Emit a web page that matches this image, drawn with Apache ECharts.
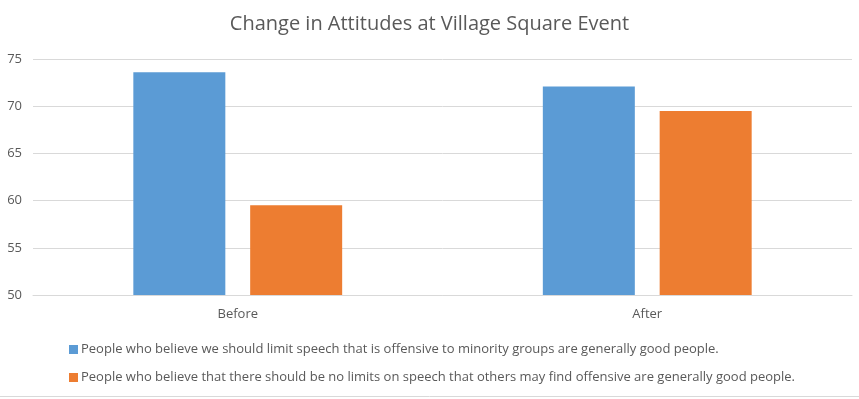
<!DOCTYPE html>
<html><head><meta charset="utf-8">
<script src="https://cdn.jsdelivr.net/npm/echarts@6/dist/echarts.min.js"></script>
<style>html,body{margin:0;padding:0;background:#fff}#c{width:859px;height:399px}</style>
</head><body><div id="c"></div>
<script>
const categories = ['Before', 'After'];
const seriesNames = [
  'People who believe we should limit speech that is offensive to minority groups are generally good people.',
  'People who believe that there should be no limits on speech that others may find offensive are generally good people.'
];
const limitSpeech = [73.6, 72.1];
const noLimits = [59.5, 69.5];
const yTicks = [50, 55, 60, 65, 70, 75];

const font = '"Open Sans", "Noto Sans", sans-serif';
const chart = echarts.init(document.getElementById('c'));
chart.setOption({
  animation: false,
  title: {
    text: 'Change in Attitudes at Village Square Event',
    left: 'center', top: 9,
    textStyle: { fontFamily: font, fontSize: 20, fontWeight: 'normal', color: '#595959' }
  },
  grid: { left: 33, right: 7, top: 59, bottom: 104 },
  legend: {
    orient: 'vertical', left: 64, top: 338, itemGap: 15,
    itemWidth: 9, itemHeight: 9, icon: 'rect',
    textStyle: { fontFamily: font, fontSize: 13, color: '#595959', padding: [0,0,0,-2] },
    data: seriesNames
  },
  xAxis: {
    type: 'category', data: categories,
    axisLine: { show: true, lineStyle: { color: '#d9d9d9' } },
    axisTick: { show: false },
    axisLabel: { fontFamily: font, fontSize: 13, color: '#595959', margin: 13 }
  },
  yAxis: {
    type: 'value', min: yTicks[0], max: yTicks[yTicks.length-1], interval: 5,
    axisLine: { show: false }, axisTick: { show: false },
    splitLine: { lineStyle: { color: '#d9d9d9' } },
    axisLabel: { fontFamily: font, fontSize: 13, color: '#595959', margin: 11 }
  },
  series: [
    { name: seriesNames[0], type: 'bar', data: limitSpeech, itemStyle: { color: '#5b9bd5' },
      barWidth: 92, barGap: '27%' },
    { name: seriesNames[1], type: 'bar', data: noLimits, itemStyle: { color: '#ed7d31' },
      barWidth: 92, barGap: '27%' }
  ],
  graphic: [
    { type: 'line', shape: { x1: 0, y1: 396.5, x2: 859, y2: 396.5 }, style: { stroke: '#d9d9d9', lineWidth: 1 } }
  ]
});
</script></body></html>
